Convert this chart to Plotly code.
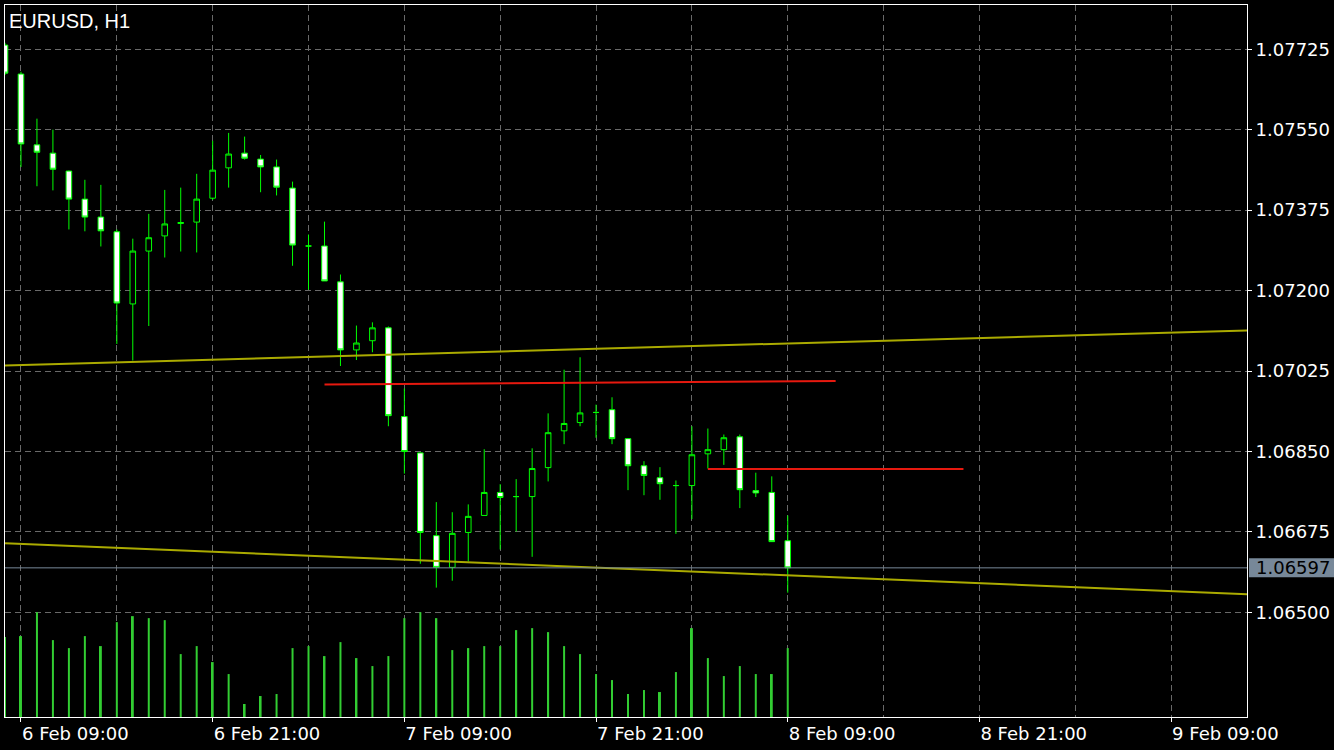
import pandas as pd
import plotly.graph_objects as go

# ---------------- data ----------------
symbol_title = "EURUSD, H1"
first_bar_time = "2023-02-06 08:00"

opens = [1.07734, 1.07671, 1.07517, 1.07499, 1.07460, 1.07399, 1.07360, 1.07328, 1.07171, 1.07286,
         1.07319, 1.07346, 1.07349, 1.07401, 1.07467, 1.07499, 1.07486, 1.07469, 1.07423, 1.07297,
         1.07297, 1.07219, 1.07071, 1.07091, 1.07119, 1.06926, 1.06847, 1.06667, 1.06598, 1.06674,
         1.06711, 1.06761, 1.06752, 1.06752, 1.06815, 1.06895, 1.06913, 1.06935, 1.06941, 1.06878,
         1.06819, 1.06793, 1.06776, 1.06776, 1.06845, 1.06854, 1.06882, 1.06765, 1.06761, 1.06656]
highs = [1.07739, 1.07676, 1.07574, 1.07550, 1.07461, 1.07441, 1.07430, 1.07333, 1.07313, 1.07367,
         1.07419, 1.07424, 1.07454, 1.07526, 1.07543, 1.07535, 1.07495, 1.07485, 1.07437, 1.07322,
         1.07350, 1.07235, 1.07124, 1.07131, 1.07122, 1.06987, 1.06848, 1.06740, 1.06718, 1.06735,
         1.06855, 1.06779, 1.06790, 1.06857, 1.06933, 1.07028, 1.07055, 1.06952, 1.06968, 1.06879,
         1.06829, 1.06816, 1.06787, 1.06905, 1.06900, 1.06887, 1.06887, 1.06804, 1.06796, 1.06711]
lows = [1.07669, 1.07469, 1.07427, 1.07418, 1.07333, 1.07329, 1.07296, 1.07084, 1.07048, 1.07123,
        1.07272, 1.07285, 1.07283, 1.07397, 1.07424, 1.07485, 1.07414, 1.07407, 1.07254, 1.07202,
        1.07221, 1.07036, 1.07049, 1.07066, 1.06905, 1.06802, 1.06606, 1.06554, 1.06569, 1.06611,
        1.06711, 1.06637, 1.06676, 1.06621, 1.06785, 1.06866, 1.06905, 1.06880, 1.06866, 1.06766,
        1.06755, 1.06745, 1.06671, 1.06703, 1.06813, 1.06821, 1.06727, 1.06751, 1.06654, 1.06543]
closes = [1.07673, 1.07519, 1.07501, 1.07464, 1.07399, 1.07360, 1.07330, 1.07173, 1.07286, 1.07315,
          1.07345, 1.07348, 1.07399, 1.07462, 1.07497, 1.07488, 1.07469, 1.07425, 1.07299, 1.07297,
          1.07221, 1.07071, 1.07086, 1.07119, 1.06928, 1.06850, 1.06674, 1.06598, 1.06672, 1.06709,
          1.06761, 1.06750, 1.06752, 1.06813, 1.06891, 1.06911, 1.06934, 1.06935, 1.06878, 1.06819,
          1.06798, 1.06780, 1.06776, 1.06843, 1.06854, 1.06880, 1.06767, 1.06760, 1.06654, 1.06597]
volumes = [2400, 2430, 3150, 2310, 2070, 2430, 2130, 2850, 3030, 2970,
           2910, 1890, 2130, 1650, 1290, 390, 630, 690, 2070, 2130,
           1830, 2250, 1770, 1530, 1830, 2970, 3150, 2970, 2010, 2070,
           2130, 2130, 2610, 2670, 2550, 2130, 1890, 1290, 1110, 690,
           810, 750, 1350, 2670, 1770, 1230, 1530, 1290, 1290, 2070]

bid_price = 1.06597

upper_trend_times = ["2023-02-06 08:00", "2023-02-09 14:00"]
upper_trend_prices = [1.070371, 1.071136]
lower_trend_times = ["2023-02-06 08:00", "2023-02-09 14:00"]
lower_trend_prices = [1.066505, 1.065393]
red_line1_times = ["2023-02-07 04:00", "2023-02-08 12:00"]
red_line1_prices = [1.069959, 1.070035]
red_line2_times = ["2023-02-08 04:00", "2023-02-08 20:00"]
red_line2_prices = [1.068119, 1.068119]

price_ticks = [1.06500, 1.06675, 1.06850, 1.07025, 1.07200, 1.07375, 1.07550, 1.07725]
time_ticks = ["2023-02-06 09:00", "2023-02-06 21:00", "2023-02-07 09:00", "2023-02-07 21:00",
              "2023-02-08 09:00", "2023-02-08 21:00", "2023-02-09 09:00"]
time_labels = ["6 Feb 09:00", "6 Feb 21:00", "7 Feb 09:00", "7 Feb 21:00",
               "8 Feb 09:00", "8 Feb 21:00", "9 Feb 09:00"]
x_range = ["2023-02-06 08:00", "2023-02-09 13:45"]
y_range = [1.062726, 1.078212]
volume_axis_max = 21390

# ---------------- styling ----------------
BG = "#000000"
FG = "#ffffff"
GRID = "rgb(105,105,105)"
CANDLE_LINE = "#00ff00"
VOL = "#32cd32"
TREND = "rgb(170,170,0)"
RED = "rgb(230,25,15)"
BID = "#778899"
AXIS_FONT = dict(family="DejaVu Sans", size=18, color=FG)

times = pd.date_range(first_bar_time, periods=len(opens), freq="h")

fig = go.Figure()

fig.add_trace(go.Bar(
    x=times, y=volumes, yaxis="y2", marker=dict(color=VOL, line=dict(width=0)),
    width=450000, hoverinfo="skip", showlegend=False))

fig.add_trace(go.Candlestick(
    x=times, open=opens, high=highs, low=lows, close=closes,
    increasing=dict(line=dict(color=CANDLE_LINE, width=1), fillcolor=BG),
    decreasing=dict(line=dict(color=CANDLE_LINE, width=1), fillcolor="#ffffff"),
    whiskerwidth=0, showlegend=False))

for tx, ty, col in [(upper_trend_times, upper_trend_prices, TREND),
                    (lower_trend_times, lower_trend_prices, TREND),
                    (red_line1_times, red_line1_prices, RED),
                    (red_line2_times, red_line2_prices, RED)]:
    fig.add_trace(go.Scatter(x=tx, y=ty, mode="lines", line=dict(color=col, width=2),
                             hoverinfo="skip", showlegend=False))

fig.update_layout(
    width=1334, height=750,
    paper_bgcolor=BG, plot_bgcolor=BG,
    margin=dict(l=4, r=86, t=4, b=33),
    boxgap=0.5,
    showlegend=False,
    xaxis=dict(
        type="date", range=x_range, rangeslider=dict(visible=False),
        tickmode="array", tickvals=time_ticks, ticktext=time_labels,
        ticklabelposition="outside right",
        ticks="outside", ticklen=4, tickcolor=FG, tickfont=AXIS_FONT,
        showgrid=True, gridcolor=GRID, griddash="6px,4px", gridwidth=1,
        minor=dict(tickmode="linear", tick0="2023-02-06 03:00", dtick=6 * 3600 * 1000,
                   showgrid=True, gridcolor=GRID, griddash="6px,4px", gridwidth=1, ticks=""),
        showline=True, linecolor=FG, linewidth=1, mirror=True, zeroline=False,
    ),
    yaxis=dict(
        range=y_range, side="right",
        tickmode="array", tickvals=price_ticks, ticktext=[f"{v:.5f}" for v in price_ticks],
        ticks="outside", ticklen=4, tickcolor=FG, tickfont=AXIS_FONT,
        showgrid=True, gridcolor=GRID, griddash="6px,4px", gridwidth=1,
        showline=True, linecolor=FG, linewidth=1, mirror=True, zeroline=False,
    ),
    yaxis2=dict(range=[0, volume_axis_max], overlaying="y", visible=False, fixedrange=True),
)

# bid line and its price label
fig.add_shape(type="line", xref="paper", x0=0, x1=1, yref="y", y0=bid_price, y1=bid_price,
              line=dict(color=BID, width=1))
fig.add_shape(type="rect", xref="paper", xsizemode="pixel", xanchor=1, x0=2, x1=90,
              yref="y", ysizemode="pixel", yanchor=bid_price, y0=-9.5, y1=9.5,
              fillcolor=BID, line=dict(width=0))
fig.add_annotation(xref="paper", x=1, xanchor="left", xshift=7, yref="y", y=bid_price,
                   yanchor="middle", text=f"{bid_price:.5f}", showarrow=False,
                   font=dict(family="DejaVu Sans", size=18, color="#000000"))

# symbol caption
fig.add_annotation(xref="paper", x=0, xanchor="left", xshift=2, yref="paper", y=1,
                   yanchor="top", yshift=-3, text=symbol_title, showarrow=False,
                   font=dict(family="Liberation Sans", size=20, color=FG))

fig.write_html("out.html",
               config={"displayModeBar": False},
               post_script="document.body.style.margin='0';document.body.style.padding='0';"
                           "document.body.style.background='#000';")
